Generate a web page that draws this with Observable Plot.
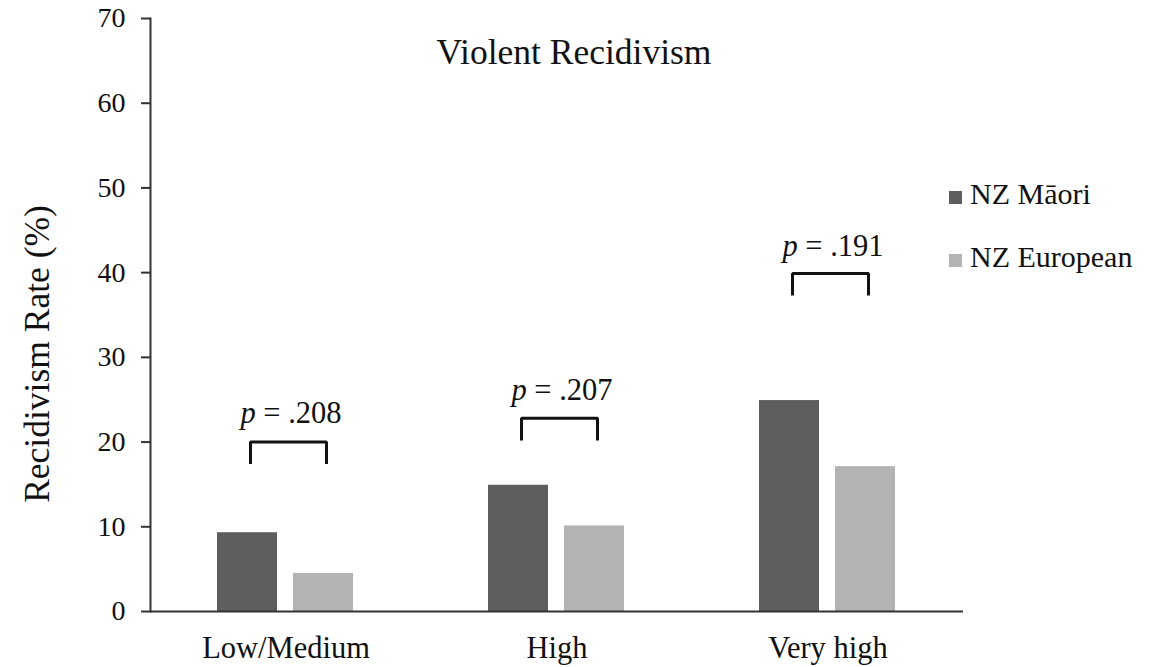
<!DOCTYPE html>
<html><head><meta charset="utf-8">
<script src="https://cdn.jsdelivr.net/npm/d3@7"></script>
<script src="https://cdn.jsdelivr.net/npm/@observablehq/plot@0.6"></script>
<style>
body{margin:0;background:#fff;font-family:"Liberation Serif","Times New Roman",serif;}
#wrap{position:relative;width:1161px;height:667px;overflow:hidden;}
svg text, svg tspan{font-family:"Liberation Serif","Times New Roman",serif !important;}
.ov{position:absolute;line-height:1;white-space:nowrap;color:#111;font-family:"Liberation Serif","Times New Roman",serif !important;}
.sw{position:absolute;width:13px;height:13px;}
</style></head><body>
<div id="wrap"></div>
<script>
const categories = ["Low/Medium", "High", "Very high"];
const groups = ["NZ Māori", "NZ European"];
const maoriRates = [9.3, 14.9, 24.9];
const europeanRates = [4.5, 10.1, 17.1];
const pValues = [".208", ".207", ".191"];
const bracketTop = [20.0, 22.8, 39.9];
const bracketBottom = [17.4, 20.2, 37.3];
const labelBase = [22.3, 25.0, 42.0];
const yTicks = [0, 10, 20, 30, 40, 50, 60, 70];
const colors = ["#5e5e5e", "#b3b3b3"];
const title = "Violent Recidivism";
const yLabel = "Recidivism Rate (%)";

const bars = categories.flatMap((c, i) => [
  {category: c, group: groups[0], rate: maoriRates[i]},
  {category: c, group: groups[1], rate: europeanRates[i]}
]);
const brackets = categories.flatMap((c, i) => [
  {category: c, group: groups[0], y: bracketBottom[i]},
  {category: c, group: groups[0], y: bracketTop[i]},
  {category: c, group: groups[1], y: bracketTop[i]},
  {category: c, group: groups[1], y: bracketBottom[i]}
]);
const labels = categories.map((c, i) => ({category: c, y: labelBase[i], text: "p = " + pValues[i]}));

const ink = "#111";
const serif = "'Liberation Serif', 'Times New Roman', serif";
const plot = Plot.plot({
  width: 1161,
  height: 667,
  marginTop: 18,
  marginBottom: 56,
  marginLeft: 150,
  marginRight: 198,
  style: {fontFamily: serif, color: ink, background: "#fff"},
  fx: {domain: categories, padding: 0, label: null},
  x: {domain: groups, paddingInner: 0.208, paddingOuter: 0.864, axis: null},
  y: {domain: [0, 70], label: null},
  color: {domain: groups, range: colors},
  marks: [
    Plot.barY(bars, {fx: "category", x: "group", y: "rate", fill: "group"}),
    Plot.ruleY([0], {stroke: "#333", strokeWidth: 2}),
    Plot.frame({anchor: "left", facetAnchor: "left", stroke: "#333", strokeWidth: 2}),
    Plot.axisY(yTicks, {tickSize: 9, tickPadding: 16, fontSize: 28, fontFamily: serif, label: null, stroke: "#333", strokeWidth: 2, color: ink}),
    Plot.axisFx({anchor: "bottom", tickSize: 0, tickPadding: 25, fontSize: 30.5, fontFamily: serif, label: null, color: ink}),
    Plot.line(brackets, {fx: "category", x: "group", y: "y", z: "category", stroke: ink, strokeWidth: 3, strokeLinejoin: "miter", strokeLinecap: "butt", dx: 3}),
    Plot.text(labels, {fx: "category", y: "y", text: "text", frameAnchor: "middle", lineAnchor: "bottom", fontSize: 30.5, fontFamily: serif, fill: ink, dx: 5})
  ]
});

// italicise the "p" in the p-value labels
d3.select(plot).selectAll("text").each(function () {
  const t = this.textContent;
  if (t.startsWith("p = ")) {
    const sel = d3.select(this);
    sel.text(null);
    sel.append("tspan").attr("font-style", "italic").text("p");
    sel.append("tspan").text(t.slice(1));
  }
});

const wrap = document.getElementById("wrap");
wrap.appendChild(plot);
plot.style.position = "absolute";
plot.style.left = "0px";
plot.style.top = "0px";

function addText(txt, css) {
  const d = document.createElement("div");
  d.className = "ov";
  d.textContent = txt;
  Object.assign(d.style, css);
  wrap.appendChild(d);
  return d;
}
// title
addText(title, {left: "574px", top: "35px", fontSize: "35.5px", transform: "translateX(-50%)"});
// y label
addText(yLabel, {left: "38px", top: "354px", fontSize: "35.5px", transform: "translate(-50%,-50%) rotate(-90deg)"});
// legend
const legendTops = [179, 242];
const swatchTops = [191, 254];
groups.forEach((g, i) => {
  const s = document.createElement("div");
  s.className = "sw";
  s.style.left = "949px";
  s.style.top = swatchTops[i] + "px";
  s.style.background = colors[i];
  wrap.appendChild(s);
  addText(g, {left: "970px", top: legendTops[i] + "px", fontSize: "30px"});
});
</script>
</body></html>
